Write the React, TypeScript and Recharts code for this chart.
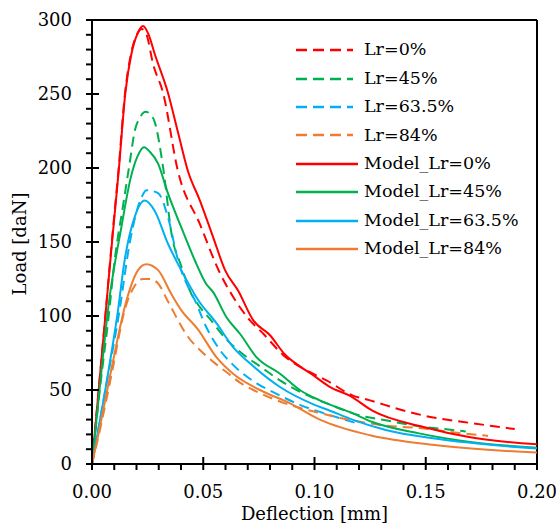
import { LineChart, Line, XAxis, YAxis, ReferenceLine } from 'recharts';

const FONT = '"DejaVu Serif", serif';

// deflection [mm] / load [daN] pairs
const LR0: [number, number][] = [
    [0, 0], [0.003, 50], [0.006, 100], [0.0089, 150], [0.012, 200], [0.0148, 250], [0.0175, 277],
    [0.0205, 291], [0.0222, 294], [0.0245, 290], [0.0275, 270], [0.0319, 251], [0.0386, 198],
    [0.0485, 162], [0.0575, 129], [0.0634, 113], [0.071, 97], [0.077, 88], [0.086, 73.5],
    [0.098, 62], [0.1054, 56.5], [0.117, 46.4], [0.125, 43], [0.138, 37], [0.152, 31.8],
    [0.167, 28.4], [0.19, 23.6],
];
const LR45: [number, number][] = [
    [0, 0], [0.0035, 50], [0.0075, 100], [0.0102, 138], [0.014, 175], [0.0169, 203], [0.0192, 225],
    [0.0215, 234], [0.024, 238], [0.0265, 236], [0.0282, 231], [0.032, 200], [0.0358, 155],
    [0.0403, 133], [0.044, 117], [0.0485, 106], [0.053, 98], [0.0605, 84], [0.068, 74],
    [0.0755, 66], [0.0845, 56.5], [0.095, 47.7], [0.107, 40], [0.12, 33], [0.132, 29.5],
    [0.147, 25.5], [0.162, 23], [0.168, 22],
];
const LR63: [number, number][] = [
    [0, 0], [0.006, 50], [0.0124, 104], [0.0169, 149], [0.0222, 180], [0.0245, 185], [0.0297, 183],
    [0.0341, 167], [0.0386, 138], [0.0476, 106], [0.05, 97], [0.0575, 77], [0.0634, 67],
    [0.074, 54.5], [0.0814, 48.6], [0.0934, 40], [0.107, 33], [0.119, 27.5],
];
const LR84: [number, number][] = [
    [0, 0], [0.004, 26], [0.009, 62], [0.0147, 104], [0.019, 120], [0.0229, 125], [0.0259, 125],
    [0.0297, 122], [0.0341, 110], [0.0431, 86], [0.0485, 77], [0.0545, 69], [0.0605, 62],
    [0.0665, 55], [0.0725, 50], [0.0814, 44], [0.092, 38.5], [0.101, 35], [0.115, 30],
    [0.132, 26], [0.149, 24], [0.165, 21], [0.178, 19],
];
const MODEL0: [number, number][] = [
    [0, 0], [0.003, 50], [0.006, 100], [0.009, 150], [0.012, 198], [0.015, 251], [0.0177, 277],
    [0.0205, 291], [0.0229, 296], [0.0255, 290], [0.0282, 277], [0.0341, 251], [0.0385, 225],
    [0.0431, 198], [0.0485, 178], [0.0545, 153], [0.0598, 131], [0.0657, 117], [0.0725, 97],
    [0.08, 87], [0.0867, 74], [0.0934, 66], [0.0994, 60], [0.107, 52], [0.116, 46],
    [0.126, 36], [0.149, 25], [0.17, 18], [0.2, 13.3],
];
const MODEL45: [number, number][] = [
    [0, 0], [0.0035, 52], [0.0075, 108], [0.0132, 160], [0.0175, 194], [0.0205, 208], [0.0234, 214],
    [0.026, 211], [0.0297, 203], [0.0341, 183], [0.0401, 160], [0.0461, 138], [0.0512, 122],
    [0.0545, 116], [0.0605, 99], [0.0665, 88], [0.074, 72], [0.0845, 61], [0.0934, 50],
    [0.1024, 43], [0.116, 35], [0.126, 28.4], [0.147, 20.7], [0.17, 14.9], [0.2, 11],
];
const MODEL63: [number, number][] = [
    [0, 0], [0.0064, 54], [0.0117, 104], [0.0147, 138], [0.0192, 167], [0.0237, 178], [0.0282, 171],
    [0.0341, 149], [0.0401, 131], [0.0476, 111], [0.056, 95], [0.0634, 79], [0.071, 68],
    [0.0845, 52], [0.1, 40], [0.107, 36], [0.117, 30], [0.132, 23], [0.155, 17], [0.2, 10.4],
];
const MODEL84: [number, number][] = [
    [0, 0], [0.003, 21], [0.0087, 64], [0.0154, 110], [0.0207, 131], [0.0244, 135], [0.0297, 131],
    [0.0356, 115], [0.0401, 104], [0.0476, 91], [0.056, 72], [0.0634, 61], [0.0755, 50],
    [0.089, 41], [0.1024, 30], [0.125, 19.4], [0.155, 12.6], [0.2, 7.7],
];

const X_TICKS = [0, 0.01, 0.02, 0.03, 0.04, 0.05, 0.06, 0.07, 0.08, 0.09, 0.1,
    0.11, 0.12, 0.13, 0.14, 0.15, 0.16, 0.17, 0.18, 0.19, 0.2];
const Y_TICKS = [0, 10, 20, 30, 40, 50, 60, 70, 80, 90, 100, 110, 120, 130, 140, 150,
    160, 170, 180, 190, 200, 210, 220, 230, 240, 250, 260, 270, 280, 290, 300];

const series = [
    { name: 'Lr=0%', data: LR0, color: '#FF0000', dashed: true },
    { name: 'Lr=45%', data: LR45, color: '#00B050', dashed: true },
    { name: 'Lr=63.5%', data: LR63, color: '#00B0F0', dashed: true },
    { name: 'Lr=84%', data: LR84, color: '#ED7D31', dashed: true },
    { name: 'Model_Lr=0%', data: MODEL0, color: '#FF0000', dashed: false },
    { name: 'Model_Lr=45%', data: MODEL45, color: '#00B050', dashed: false },
    { name: 'Model_Lr=63.5%', data: MODEL63, color: '#00B0F0', dashed: false },
    { name: 'Model_Lr=84%', data: MODEL84, color: '#ED7D31', dashed: false },
];

const toPoints = (arr: [number, number][]) => arr.map(([x, y]) => ({ x, y }));

// tick x/y arrive 6px outside the axis line (tickSize 6, tickMargin 0)
const XTick = (props: any) => {
    const x = Number(props.x);
    const y = Number(props.y);
    const value = props.payload.value;
    const major = Math.round(value * 100) % 5 === 0;
    return (
        <g>
            <line x1={x} x2={x} y1={y} y2={major ? y - 13 : y - 6} stroke="#000" strokeWidth={2} />
            {major && (
                <text x={x} y={y + 28} textAnchor="middle" fontFamily={FONT} fontSize={18} fill="#000">
                    {value.toFixed(2)}
                </text>
            )}
        </g>
    );
};

const YTick = (props: any) => {
    const x = Number(props.x);
    const y = Number(props.y);
    const value = props.payload.value;
    const major = value % 50 === 0;
    return (
        <g>
            <line x1={x} x2={major ? x + 13 : x + 6} y1={y} y2={y} stroke="#000" strokeWidth={2} />
            {major && (
                <text x={x - 14} y={y + 6} textAnchor="end" fontFamily={FONT} fontSize={18} fill="#000">
                    {value}
                </text>
            )}
        </g>
    );
};

const LegendBox = () => (
    <div style={{ position: 'absolute', top: 36, left: 294, fontFamily: FONT, fontSize: 17.5, color: '#000' }}>
        {series.map((s) => (
            <div key={s.name} style={{ height: 28.4, display: 'flex', alignItems: 'center' }}>
                <svg width={70} height={10} style={{ display: 'block' }}>
                    <line x1={2} x2={s.dashed ? 59 : 64} y1={5} y2={5} stroke={s.color}
                        strokeWidth={2.5} strokeDasharray={s.dashed ? '11 6' : undefined} />
                </svg>
                <span style={{ lineHeight: 1 }}>{s.name}</span>
            </div>
        ))}
    </div>
);

const titleStyle = { position: 'absolute' as const, fontFamily: FONT, fontSize: 18, color: '#000', lineHeight: 1, whiteSpace: 'nowrap' as const };

export default function App() {
    return (
        <div style={{ position: 'absolute', left: 0, top: 0, width: 556, height: 528, background: '#fff' }}>
            <LineChart width={556} height={528} margin={{ top: 20, right: 19, bottom: 0, left: 0 }}>
                <XAxis dataKey="x" type="number" domain={[0, 0.2]} ticks={X_TICKS} interval={0}
                    tick={<XTick />} tickLine={false} tickSize={6} tickMargin={0} height={64}
                    axisLine={{ stroke: '#000', strokeWidth: 2 }} />
                <YAxis type="number" domain={[0, 300]} ticks={Y_TICKS} interval={0}
                    tick={<YTick />} tickLine={false} tickSize={6} tickMargin={0} width={92}
                    axisLine={{ stroke: '#000', strokeWidth: 2 }} />
                <ReferenceLine y={300} stroke="#000" strokeWidth={2} />
                <ReferenceLine x={0.2} stroke="#000" strokeWidth={2} />
                {series.map((s) => (
                    <Line key={s.name} data={toPoints(s.data)} dataKey="y" name={s.name} type="monotone"
                        stroke={s.color} strokeWidth={2} strokeDasharray={s.dashed ? '10 6' : undefined}
                        dot={false} activeDot={false} isAnimationActive={false} />
                ))}
            </LineChart>
            <LegendBox />
            <div style={{ ...titleStyle, left: 92, width: 445, top: 505, textAlign: 'center' }}>
                Deflection [mm]
            </div>
            <div style={{ ...titleStyle, left: 20, top: 244, transform: 'translate(-50%, -50%) rotate(-90deg)' }}>
                Load [daN]
            </div>
        </div>
    );
}
